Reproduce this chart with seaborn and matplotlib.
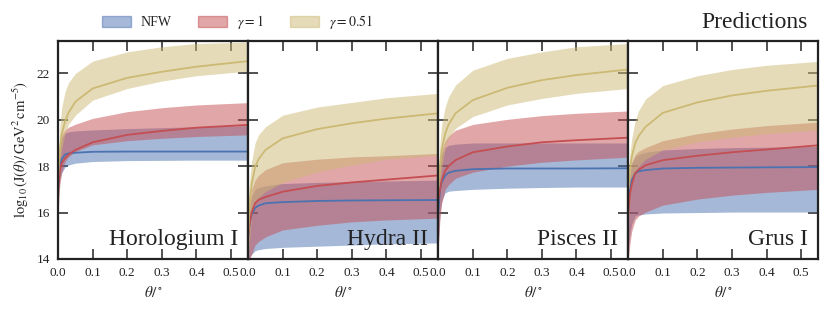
import numpy as np
import pandas as pd
import matplotlib
matplotlib.use("Agg")
import matplotlib.pyplot as plt
from matplotlib.patches import Patch
import seaborn as sns

# ============================================
# Data
# ============================================
theta = [0.0, 0.005, 0.01, 0.02, 0.03, 0.05, 0.1, 0.2, 0.3, 0.4, 0.55]
galaxies = ["Horologium I", "Hydra II", "Pisces II", "Grus I"]
models = ["NFW", r"$\gamma=1$", r"$\gamma=0.51$"]

# Horologium I
horo_nfw_lo = [16.5, 17.4, 17.7, 17.96, 18.05, 18.13, 18.2, 18.24, 18.25, 18.26, 18.26]
horo_nfw_med = [17.0, 17.9, 18.3, 18.5, 18.55, 18.58, 18.62, 18.63, 18.63, 18.63, 18.63]
horo_nfw_hi = [17.8, 18.8, 19.2, 19.42, 19.48, 19.52, 19.56, 19.62, 19.66, 19.7, 19.75]
horo_g1_lo = [16.0, 17.2, 17.7, 18.2, 18.4, 18.63, 18.92, 19.1, 19.2, 19.28, 19.35]
horo_g1_med = [17.0, 17.8, 18.13, 18.34, 18.5, 18.7, 19.03, 19.35, 19.52, 19.66, 19.78]
horo_g1_hi = [17.8, 18.9, 19.35, 19.56, 19.68, 19.81, 20.06, 20.35, 20.52, 20.64, 20.74]
horo_g051_lo = [16.5, 18.0, 18.7, 19.4, 19.8, 20.2, 20.85, 21.35, 21.67, 21.9, 22.1]
horo_g051_med = [17.5, 18.7, 19.35, 19.92, 20.3, 20.78, 21.35, 21.81, 22.07, 22.29, 22.53]
horo_g051_hi = [18.0, 19.7, 20.5, 21.21, 21.6, 22.0, 22.53, 22.93, 23.15, 23.29, 23.35]

# Hydra II
hydra_nfw_lo = [14.0, 14.1, 14.2, 14.35, 14.4, 14.45, 14.5, 14.55, 14.6, 14.65, 14.69]
hydra_nfw_med = [15.0, 15.6, 15.9, 16.2, 16.3, 16.4, 16.45, 16.5, 16.52, 16.53, 16.54]
hydra_nfw_hi = [15.5, 16.3, 16.7, 17.0, 17.08, 17.15, 17.25, 17.3, 17.33, 17.36, 17.4]
hydra_g1_lo = [14.0, 14.0, 14.2, 14.6, 14.75, 14.95, 15.25, 15.45, 15.6, 15.68, 15.76]
hydra_g1_med = [15.0, 15.6, 16.0, 16.4, 16.55, 16.67, 16.9, 17.15, 17.3, 17.42, 17.6]
hydra_g1_hi = [15.5, 16.5, 17.0, 17.4, 17.6, 17.85, 18.15, 18.3, 18.4, 18.45, 18.55]
hydra_g051_lo = [14.0, 15.0, 15.8, 16.4, 16.65, 16.9, 17.3, 17.75, 18.05, 18.3, 18.47]
hydra_g051_med = [15.0, 16.5, 17.2, 17.96, 18.3, 18.7, 19.2, 19.6, 19.85, 20.05, 20.28]
hydra_g051_hi = [16.5, 17.5, 18.2, 19.0, 19.35, 19.7, 20.2, 20.55, 20.75, 20.95, 21.14]

# Pisces II
pisc_nfw_lo = [14.5, 16.0, 16.5, 16.85, 16.92, 16.95, 17.0, 17.05, 17.08, 17.1, 17.1]
pisc_nfw_med = [16.0, 17.0, 17.3, 17.6, 17.72, 17.8, 17.87, 17.9, 17.9, 17.9, 17.91]
pisc_nfw_hi = [17.0, 18.1, 18.5, 18.8, 18.9, 18.95, 19.0, 19.0, 19.0, 19.0, 19.0]
pisc_g1_lo = [14.5, 15.7, 16.4, 17.0, 17.2, 17.48, 17.74, 18.0, 18.17, 18.27, 18.39]
pisc_g1_med = [16.5, 17.0, 17.4, 17.8, 18.0, 18.26, 18.6, 18.85, 19.03, 19.12, 19.23]
pisc_g1_hi = [17.5, 18.3, 18.7, 19.1, 19.3, 19.55, 19.8, 20.02, 20.18, 20.28, 20.38]
pisc_g051_lo = [16.5, 17.2, 17.9, 18.8, 19.2, 19.63, 20.14, 20.64, 20.92, 21.14, 21.35]
pisc_g051_med = [17.0, 18.0, 18.7, 19.4, 19.8, 20.28, 20.85, 21.38, 21.71, 21.93, 22.17]
pisc_g051_hi = [17.5, 19.0, 19.8, 20.55, 21.0, 21.5, 22.14, 22.65, 22.93, 23.15, 23.29]

# Grus I
grus_nfw_lo = [14.5, 15.1, 15.5, 15.85, 15.9, 15.94, 15.98, 16.0, 16.02, 16.02, 16.02]
grus_nfw_med = [16.5, 17.0, 17.4, 17.7, 17.78, 17.83, 17.9, 17.93, 17.94, 17.95, 17.96]
grus_nfw_hi = [17.0, 17.7, 18.1, 18.4, 18.5, 18.6, 18.7, 18.76, 18.8, 18.82, 18.85]
grus_g1_lo = [14.0, 14.7, 15.2, 15.68, 15.85, 16.02, 16.32, 16.58, 16.75, 16.87, 17.0]
grus_g1_med = [16.0, 16.8, 17.2, 17.7, 17.85, 18.04, 18.26, 18.45, 18.6, 18.72, 18.9]
grus_g1_hi = [17.0, 17.8, 18.2, 18.5, 18.65, 18.8, 19.1, 19.4, 19.6, 19.75, 19.9]
grus_g051_lo = [15.5, 16.6, 17.2, 17.8, 18.0, 18.3, 18.7, 19.05, 19.25, 19.4, 19.55]
grus_g051_med = [17.0, 17.9, 18.4, 19.0, 19.3, 19.7, 20.3, 20.75, 21.05, 21.25, 21.48]
grus_g051_hi = [17.5, 18.6, 19.2, 19.98, 20.4, 20.9, 21.48, 21.9, 22.17, 22.35, 22.52]

panels = {
    "Horologium I": [(horo_nfw_lo, horo_nfw_med, horo_nfw_hi),
                     (horo_g1_lo, horo_g1_med, horo_g1_hi),
                     (horo_g051_lo, horo_g051_med, horo_g051_hi)],
    "Hydra II": [(hydra_nfw_lo, hydra_nfw_med, hydra_nfw_hi),
                 (hydra_g1_lo, hydra_g1_med, hydra_g1_hi),
                 (hydra_g051_lo, hydra_g051_med, hydra_g051_hi)],
    "Pisces II": [(pisc_nfw_lo, pisc_nfw_med, pisc_nfw_hi),
                  (pisc_g1_lo, pisc_g1_med, pisc_g1_hi),
                  (pisc_g051_lo, pisc_g051_med, pisc_g051_hi)],
    "Grus I": [(grus_nfw_lo, grus_nfw_med, grus_nfw_hi),
               (grus_g1_lo, grus_g1_med, grus_g1_hi),
               (grus_g051_lo, grus_g051_med, grus_g051_hi)],
}

# ============================================
# Style
# ============================================
sns.set_theme(style="ticks")
plt.rcParams["font.family"] = ["Liberation Serif", "DejaVu Serif"]
plt.rcParams["mathtext.fontset"] = "stix"
plt.rcParams["axes.edgecolor"] = "#222222"
plt.rcParams["axes.linewidth"] = 1.6
deep = sns.color_palette("deep")
cols = [deep[0], deep[3], "#ccb974"]

# ============================================
# Figure
# ============================================
fig, axes = plt.subplots(1, 4, figsize=(8.3, 3.15), dpi=100, sharey=True)
fig.subplots_adjust(left=0.070, right=0.986, top=0.870, bottom=0.178, wspace=0)

for ax, name in zip(axes, galaxies):
    for (lo, med, hi), c in zip(panels[name], cols):
        ax.fill_between(theta, lo, hi, color=c, alpha=0.5, lw=0)
        sns.lineplot(x=theta, y=med, color=c, lw=1.3, ax=ax)
    ax.set_xlim(0, 0.55)
    ax.set_ylim(14, 23.4)
    ax.set_xticks([0.0, 0.1, 0.2, 0.3, 0.4, 0.5])
    ax.set_yticks([14, 16, 18, 20, 22])
    ax.tick_params(direction="in", top=True, right=True, length=7, width=1.1,
                   labelsize=9.5, colors="#222222", pad=6)
    ax.set_xlabel(r"$\theta/^\circ$", fontsize=11)
    ax.text(0.947, 0.065, name, transform=ax.transAxes, ha="right",
            va="baseline", fontsize=17, color="#222222")

axes[0].set_ylabel(r"$\log_{10}(\mathrm{J}(\theta)/\,\mathrm{GeV}^2\,\mathrm{cm}^{-5})$",
                   fontsize=10.5)

handles = [Patch(facecolor=c, edgecolor=c, alpha=0.5) for c in cols]
fig.legend(handles, models, loc="center", bbox_to_anchor=(0.286, 0.930), ncol=3,
           frameon=False, fontsize=10, handlelength=2.1, handleheight=0.8,
           handletextpad=0.7, columnspacing=1.9)
fig.text(0.9735, 0.930, "Predictions", ha="right", va="center", fontsize=17,
         color="#222222")

plt.savefig("out.png", dpi=100)
